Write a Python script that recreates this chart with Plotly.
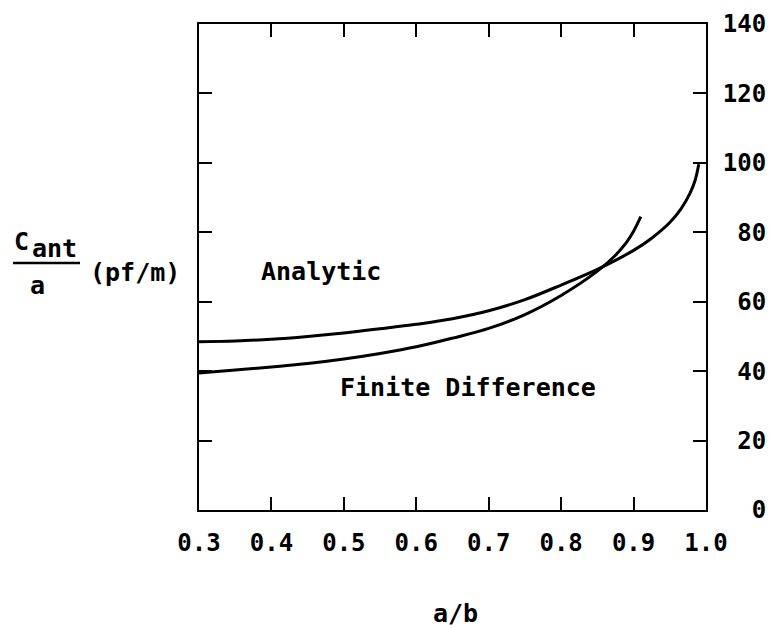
import plotly.graph_objects as go

# ---- data ----
x_analytic = [0.30, 0.35, 0.40, 0.45, 0.50, 0.55, 0.60, 0.65, 0.70, 0.75, 0.80, 0.85,
              0.90, 0.925, 0.95, 0.965, 0.978, 0.985, 0.99]
y_analytic = [48.5, 48.7, 49.2, 50.0, 51.0, 52.2, 53.5, 55.1, 57.4, 60.6, 64.8, 69.3,
              74.8, 78.3, 82.8, 86.6, 91.3, 95.0, 99.6]

x_fd = [0.30, 0.35, 0.40, 0.45, 0.50, 0.55, 0.60, 0.65, 0.70, 0.75, 0.80, 0.85,
        0.875, 0.89, 0.90, 0.91]
y_fd = [39.5, 40.3, 41.2, 42.2, 43.5, 45.1, 47.0, 49.5, 52.3, 56.3, 61.8, 68.8,
        73.4, 77.0, 80.3, 84.5]

x_ticks = [0.3, 0.4, 0.5, 0.6, 0.7, 0.8, 0.9, 1.0]
x_tick_labels = ["0.3", "0.4", "0.5", "0.6", "0.7", "0.8", "0.9", "1.0"]
y_ticks = [0, 20, 40, 60, 80, 100, 120, 140]
y_tick_labels = ["0", "20", "40", "60", "80", "100", "120", "140"]

series_names = ["Analytic", "Finite Difference"]

# ---- layout geometry ----
W, H = 769, 628
L, R, T, B = 199, 706, 24, 510
FONT = "DejaVu Sans Mono"


def px(xp):
    return (xp - L) / (R - L)


def py(yp):
    return (B - yp) / (B - T)


fig = go.Figure()
for xs, ys, name in [(x_analytic, y_analytic, series_names[0]),
                     (x_fd, y_fd, series_names[1])]:
    fig.add_trace(go.Scatter(x=xs, y=ys, mode="lines", name=name,
                             line=dict(color="black", width=3, shape="spline", smoothing=1.0),
                             showlegend=False, hoverinfo="skip"))

# right-align y tick labels using non-breaking spaces (monospace font)
width = max(len(s) for s in y_tick_labels)
y_text = ["\u00a0" * (width - len(s)) + s for s in y_tick_labels]

tfont = dict(family=FONT, size=24, color="black", weight="bold")

fig.update_layout(
    width=W, height=H,
    margin=dict(l=L, r=W - R, t=T, b=H - B, pad=0, autoexpand=False),
    paper_bgcolor="white", plot_bgcolor="white",
    font=dict(family=FONT, size=24, color="black"),
    xaxis=dict(range=[0.3, 1.0], tickvals=x_ticks, ticktext=x_tick_labels,
               ticks="inside", ticklen=13, tickwidth=2, tickcolor="black",
               showline=True, linecolor="black", linewidth=2, mirror="ticks",
               showgrid=False, zeroline=False, ticklabelstandoff=10,
               automargin=False, tickfont=tfont),
    yaxis=dict(range=[0, 140], tickvals=y_ticks, ticktext=y_text, side="right",
               ticks="inside", ticklen=13, tickwidth=2, tickcolor="black",
               showline=True, linecolor="black", linewidth=2, mirror="ticks",
               showgrid=False, zeroline=False, ticklabelstandoff=10,
               automargin=False, tickfont=tfont),
)

ann = [
    dict(text="Analytic", x=px(321), y=py(271)),
    dict(text="Finite Difference", x=px(468), y=py(388)),
    dict(text="a/b", x=px(455), y=py(613)),
    dict(text="C", x=px(21), y=py(242)),
    dict(text="ant", x=px(54), y=py(249)),
    dict(text="a", x=px(37), y=py(285)),
    dict(text="(pf/m)", x=px(135), y=py(272)),
]
for a in ann:
    fig.add_annotation(xref="paper", yref="paper", showarrow=False,
                       xanchor="center", yanchor="middle",
                       font=dict(family=FONT, size=25, color="black", weight="bold"), **a)

fig.add_shape(type="line", xref="paper", yref="paper",
              x0=px(13), x1=px(80), y0=py(263), y1=py(263),
              line=dict(color="black", width=2.5))

fig.write_html("out.html")
